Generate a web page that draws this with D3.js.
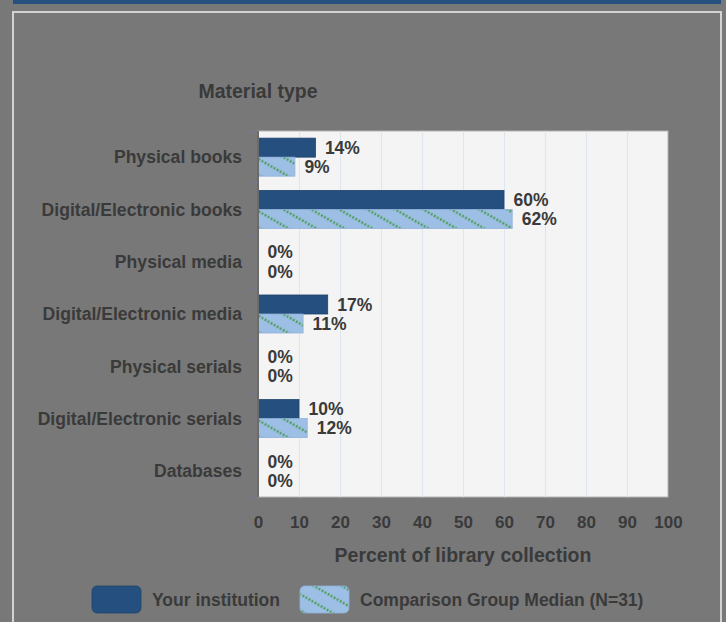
<!DOCTYPE html>
<html>
<head>
<meta charset="utf-8">
<script src="https://cdn.jsdelivr.net/npm/d3@7"></script>
<style>
  html, body { margin: 0; padding: 0; background: #787878; }
  svg { display: block; font-family: "Liberation Sans", Arial, sans-serif; }
</style>
</head>
<body>
<svg id="chart" width="726" height="622"></svg>
<script>
// data
const categories = [
    "Physical books",
    "Digital/Electronic books",
    "Physical media",
    "Digital/Electronic media",
    "Physical serials",
    "Digital/Electronic serials",
    "Databases"
];
const yourInstitution  = [14, 60, 0, 17, 0, 10, 0];
const comparisonMedian = [9, 62, 0, 11, 0, 12, 0];
const xTicks = [0, 10, 20, 30, 40, 50, 60, 70, 80, 90, 100];
const seriesNames = ["Your institution", "Comparison Group Median (N=31)"];

const W = 726, H = 622;
const plot = { left: 258, right: 668, top: 131, bottom: 497 };
const textColor = "#3a3a3a";
const navy = "#244f7e";
const lightBlue = "#9ebfe5";

const svg = d3.select("#chart");

// background, top strip, panel frame
svg.append("rect").attr("width", W).attr("height", H).attr("fill", "#787878");
svg.append("rect").attr("x", 13).attr("y", 0).attr("width", 708).attr("height", 4).attr("fill", "#26507e");
svg.append("rect")
    .attr("x", 13).attr("y", 12).attr("width", 708).attr("height", 640)
    .attr("fill", "none").attr("stroke", "#d2d2d2").attr("stroke-width", 2);

// hatch pattern for the comparison series
const defs = svg.append("defs");
const pat = defs.append("pattern")
    .attr("id", "hatch")
    .attr("patternUnits", "userSpaceOnUse")
    .attr("width", 14).attr("height", 14)
    .attr("patternTransform", "rotate(30)");
pat.append("rect").attr("width", 14).attr("height", 14).attr("fill", lightBlue);
pat.append("line")
    .attr("x1", 0).attr("y1", 7).attr("x2", 14).attr("y2", 7)
    .attr("stroke", "#449a4a").attr("stroke-width", 2.4)
    .attr("stroke-dasharray", "1.75,1.75");

// scales
const x = d3.scaleLinear().domain([0, 100]).range([plot.left, plot.right]);
const y = d3.scaleBand().domain(categories).range([plot.top, plot.bottom]).padding(0);
const ySub = d3.scaleBand().domain([0, 1]).range([0, y.bandwidth()]).paddingInner(0).paddingOuter(0.375);

// plot background
svg.append("rect")
    .attr("x", plot.left).attr("y", plot.top)
    .attr("width", plot.right - plot.left).attr("height", plot.bottom - plot.top)
    .attr("fill", "#f4f4f4").attr("stroke", "#b4b4b4").attr("stroke-width", 1);

// grid
svg.append("g").selectAll("line.grid")
    .data(xTicks.filter(d => d > 0 && d < 100))
    .enter().append("line")
    .attr("class", "grid")
    .attr("x1", d => x(d) + 0.5).attr("x2", d => x(d) + 0.5)
    .attr("y1", plot.top).attr("y2", plot.bottom)
    .attr("stroke", "#dfe5ef").attr("stroke-width", 1);

// category tick marks at band edges
const edges = categories.map(c => y(c)).concat([plot.bottom]);
svg.append("g").selectAll("line.ytick")
    .data(edges)
    .enter().append("line")
    .attr("x1", plot.left - 8).attr("x2", plot.left)
    .attr("y1", d => d + 0.5).attr("y2", d => d + 0.5)
    .attr("stroke", "#6f7c93").attr("stroke-width", 1);

// bars
const rows = categories.map((c, i) => ({ cat: c, vals: [yourInstitution[i], comparisonMedian[i]] }));
const groups = svg.append("g").selectAll("g.row")
    .data(rows)
    .enter().append("g")
    .attr("transform", d => "translate(0," + y(d.cat) + ")");

groups.selectAll("rect.bar")
    .data(d => d.vals.map((v, k) => ({ v: v, k: k })))
    .enter().append("rect")
    .attr("class", "bar")
    .attr("x", x(0))
    .attr("y", d => ySub(d.k))
    .attr("width", d => x(d.v) - x(0))
    .attr("height", ySub.bandwidth())
    .attr("fill", d => d.k === 0 ? navy : "url(#hatch)")
    .attr("stroke", d => d.v === 0 ? "none" : (d.k === 0 ? "#1f446d" : "#8fb1da"))
    .attr("stroke-width", 0.8);

groups.selectAll("text.val")
    .data(d => d.vals.map((v, k) => ({ v: v, k: k })))
    .enter().append("text")
    .attr("class", "val")
    .attr("x", d => x(d.v) + 9.5)
    .attr("y", d => ySub(d.k) + ySub.bandwidth() / 2)
    .attr("dy", "0.36em")
    .attr("fill", textColor)
    .attr("font-size", 17.5).attr("font-weight", "bold")
    .text(d => d.v + "%");

// left axis line
svg.append("line")
    .attr("x1", plot.left).attr("x2", plot.left)
    .attr("y1", plot.top).attr("y2", plot.bottom)
    .attr("stroke", "#6b6b6b").attr("stroke-width", 2);

// category labels
svg.append("g").selectAll("text.cat")
    .data(categories)
    .enter().append("text")
    .attr("x", 242)
    .attr("y", d => y(d) + y.bandwidth() / 2)
    .attr("dy", "0.36em")
    .attr("text-anchor", "end")
    .attr("fill", textColor)
    .attr("font-size", 17.6).attr("font-weight", "bold")
    .text(d => d);

// x axis
const xAxis = svg.append("g")
    .attr("transform", "translate(0," + plot.bottom + ")")
    .call(d3.axisBottom(x).tickValues(xTicks).tickSize(0).tickPadding(19));
xAxis.select(".domain").remove();
xAxis.selectAll("text")
    .attr("fill", textColor)
    .attr("font-size", 17).attr("font-weight", "bold")
    .attr("font-family", "Liberation Sans, Arial, sans-serif");

// titles
svg.append("text")
    .attr("x", 258).attr("y", 91).attr("dy", "0.36em")
    .attr("text-anchor", "middle")
    .attr("fill", textColor)
    .attr("font-size", 19.5).attr("font-weight", "bold")
    .text("Material type");

svg.append("text")
    .attr("x", (plot.left + plot.right) / 2).attr("y", 555).attr("dy", "0.36em")
    .attr("text-anchor", "middle")
    .attr("fill", textColor)
    .attr("font-size", 19.5).attr("font-weight", "bold")
    .text("Percent of library collection");

// legend
const legend = [
    { name: seriesNames[0], fill: navy, x: 92 },
    { name: seriesNames[1], fill: "url(#hatch)", x: 300 }
];
const lg = svg.append("g").selectAll("g.legend")
    .data(legend)
    .enter().append("g")
    .attr("transform", d => "translate(" + d.x + ",586)");
lg.append("rect")
    .attr("width", 49).attr("height", 27).attr("rx", 5)
    .attr("fill", d => d.fill)
    .attr("stroke", d => d.fill === navy ? "#1f446d" : "#8fb1da")
    .attr("stroke-width", 0.8);
lg.append("text")
    .attr("x", 60).attr("y", 13.5).attr("dy", "0.36em")
    .attr("fill", textColor)
    .attr("font-size", 17.5).attr("font-weight", "bold")
    .text(d => d.name);
</script>
</body>
</html>
